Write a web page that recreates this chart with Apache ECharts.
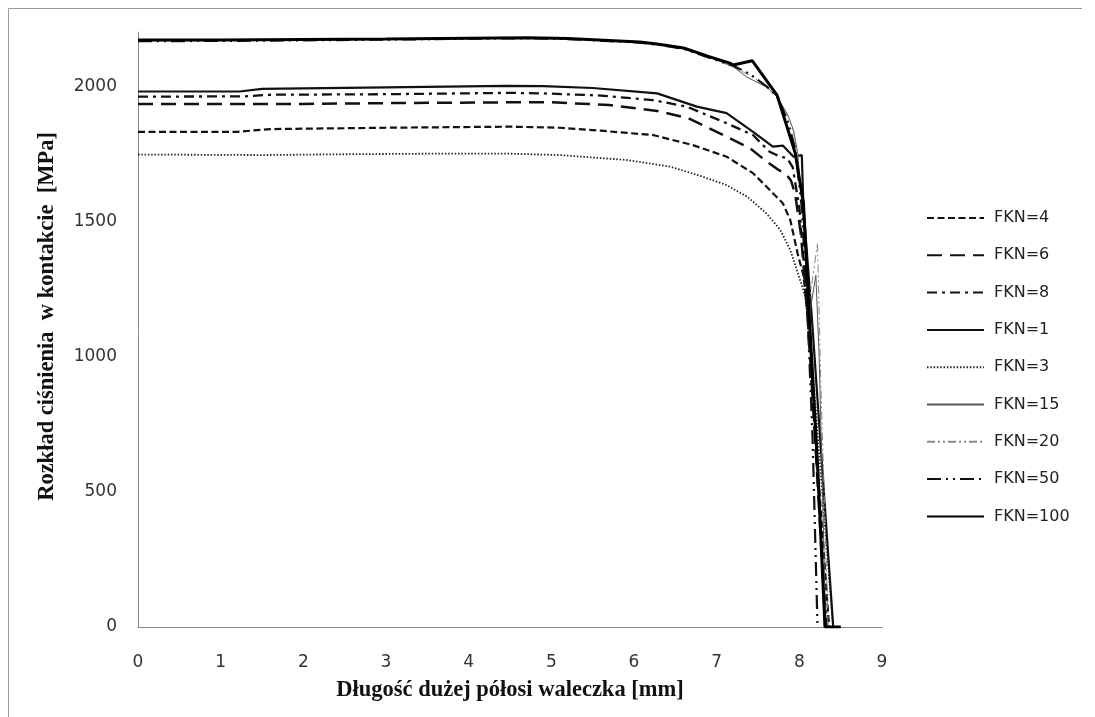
<!DOCTYPE html>
<html><head><meta charset="utf-8">
<script src="https://cdn.jsdelivr.net/npm/echarts/dist/echarts.min.js"></script>
<style>html,body{margin:0;padding:0;background:#fff}#c{width:1095px;height:717px}</style>
</head><body><div id="c"></div><script>
// Data (x in mm, y in MPa)
const seriesNames = ['FKN=4','FKN=6','FKN=8','FKN=1','FKN=3','FKN=15','FKN=20','FKN=50','FKN=100'];
const xTicks = [0,1,2,3,4,5,6,7,8,9];
const yTicks = [0,500,1000,1500,2000];

const fkn4 = [[0,1831],[1.2,1831],[1.6,1841],[3,1846],[4.5,1850],[5.1,1846],[5.6,1835],[6.23,1819],[6.71,1782],[7.12,1739],[7.44,1678],[7.68,1604],[7.8,1567],[7.89,1505],[7.93,1450],[7.98,1380],[8.05,1300],[8.12,1100],[8.22,600],[8.36,0]];
const fkn6 = [[0,1934],[2,1934],[3,1937],[4.5,1940],[5,1940],[5.7,1930],[6.28,1908],[6.65,1882],[7.0,1831],[7.4,1771],[7.6,1722],[7.75,1690],[7.85,1671],[7.9,1650],[7.95,1600],[8.02,1450],[8.1,1150],[8.2,650],[8.32,0]];
const fkn8 = [[0,1961],[1.3,1962],[1.6,1968],[3,1970],[4.5,1975],[4.9,1973],[5.6,1965],[6.23,1948],[6.64,1924],[7.08,1868],[7.44,1819],[7.64,1757],[7.77,1739],[7.85,1734],[7.92,1700],[8.0,1550],[8.08,1250],[8.2,650],[8.33,0]];
const fkn1 = [[0,1980],[1.23,1980],[1.5,1990],[3,1995],[4.46,2001],[4.9,2000],[5.5,1993],[6.28,1973],[6.76,1924],[7.12,1900],[7.44,1831],[7.68,1776],[7.8,1780],[7.93,1739],[8.03,1745],[8.05,1550],[8.15,1150],[8.41,0],[8.5,0]];
const fkn3 = [[0,1747],[1.5,1745],[2.5,1748],[3.5,1750],[4.5,1750],[5.1,1745],[5.9,1727],[6.44,1702],[6.83,1665],[7.12,1634],[7.37,1591],[7.6,1530],[7.77,1468],[7.89,1394],[7.97,1320],[8.07,1225],[8.15,1000],[8.25,600],[8.41,0]];
const fkn15 = [[0,2168],[1,2168],[2,2170],[3,2173],[4,2176],[4.7,2178],[5.2,2175],[6.07,2162],[6.3,2153],[6.6,2139],[6.9,2108],[7.2,2072],[7.36,2034],[7.6,1997],[7.73,1960],[7.85,1900],[7.93,1837],[7.98,1752],[8.05,1500],[8.12,1150],[8.2,1300],[8.24,1000],[8.32,0]];
const fkn20 = [[0,2171],[1,2171],[2,2173],[3,2175],[4,2178],[4.7,2180],[5.2,2177],[6.07,2164],[6.3,2156],[6.6,2142],[6.9,2110],[7.2,2070],[7.4,2040],[7.6,2000],[7.75,1955],[7.88,1880],[7.97,1780],[8.05,1500],[8.12,1200],[8.22,1420],[8.26,900],[8.35,0]];
const fkn50 = [[0,2166],[1,2167],[2,2169],[3,2172],[4,2175],[4.7,2177],[5.2,2174],[6.07,2161],[6.3,2152],[6.6,2138],[6.9,2106],[7.2,2075],[7.4,2045],[7.6,2000],[7.73,1962],[7.85,1880],[7.95,1770],[8.03,1550],[8.1,1150],[8.16,700],[8.22,0]];
const fkn100 = [[0,2170],[1,2170],[2,2172],[3,2174],[4,2177],[4.7,2179],[5.2,2176],[6.07,2163],[6.3,2155],[6.6,2141],[6.9,2110],[7.16,2085],[7.2,2078],[7.43,2094],[7.58,2030],[7.73,1967],[7.85,1850],[7.95,1752],[8.05,1567],[8.12,1150],[8.22,600],[8.31,0],[8.5,0]];

const chart = echarts.init(document.getElementById('c'), null, {renderer:'canvas'});
function mk(name, data, width, dash, color){
  return {name:name, type:'line', data:data, symbol:'none', showSymbol:false, smooth:false,
    lineStyle:{width:width, type:dash, color:color}, itemStyle:{color:color}, emphasis:{disabled:true}, animation:false};
}
const tickFont = {fontFamily:'DejaVu Sans', fontSize:17, color:'#333'};
const titleFont = {fontFamily:'Liberation Serif', fontWeight:'bold', fontSize:22.5, color:'#111'};
chart.setOption({
  backgroundColor:'#fff',
  animation:false,
  grid:{left:138, right:213, top:32, bottom:90, containLabel:false},
  graphic:[
    {type:'line', shape:{x1:8.5,y1:8.5,x2:1082,y2:8.5}, style:{stroke:'#9a9a9a', lineWidth:1}},
    {type:'line', shape:{x1:8.5,y1:8.5,x2:8.5,y2:717}, style:{stroke:'#9a9a9a', lineWidth:1}}
  ],
  xAxis:{type:'value', min:0, max:9, interval:1,
    axisLine:{show:true, lineStyle:{color:'#8a8a8a', width:1}}, axisTick:{show:false}, splitLine:{show:false},
    axisLabel:Object.assign({margin:27}, tickFont),
    name:'Długość dużej półosi waleczka [mm]', nameLocation:'middle', nameGap:52,
    nameTextStyle:titleFont},
  yAxis:{type:'value', min:0, max:2200, interval:500,
    axisLine:{show:true, lineStyle:{color:'#8a8a8a', width:1}}, axisTick:{show:false}, splitLine:{show:false},
    axisLabel:Object.assign({margin:21, showMaxLabel:false, formatter:function(v){return v%500===0?String(v):'';}}, tickFont),
    name:'Rozkład ciśnienia  w kontakcie  [MPa]', nameLocation:'middle', nameGap:79,
    nameTextStyle:Object.assign({padding:[0,0,0,26]}, titleFont)},
  legend:{orient:'vertical', left:921, top:205, itemWidth:57, itemHeight:16, itemGap:21.3,
    itemStyle:{color:'rgba(0,0,0,0)', borderWidth:0, opacity:0},
    textStyle:{fontFamily:'DejaVu Sans', fontSize:16, color:'#222', padding:[0,0,0,5]},
    data:seriesNames, selectedMode:false},
  series:[
    mk('FKN=3', fkn3, 1.8, [1.5,1.8], '#222'),
    mk('FKN=4', fkn4, 2.2, [7,3.5], '#111'),
    mk('FKN=6', fkn6, 2.5, [15,8], '#111'),
    mk('FKN=8', fkn8, 2.3, [10,5,3,5], '#111'),
    mk('FKN=1', fkn1, 2.2, 'solid', '#111'),
    mk('FKN=15', fkn15, 1, 'solid', '#555'),
    mk('FKN=20', fkn20, 1, [8,3,2,3,2,3], '#888'),
    mk('FKN=50', fkn50, 2.2, [14,5,2,5,2,5], '#111'),
    mk('FKN=100', fkn100, 3, 'solid', '#000')
  ]
});
</script></body></html>
